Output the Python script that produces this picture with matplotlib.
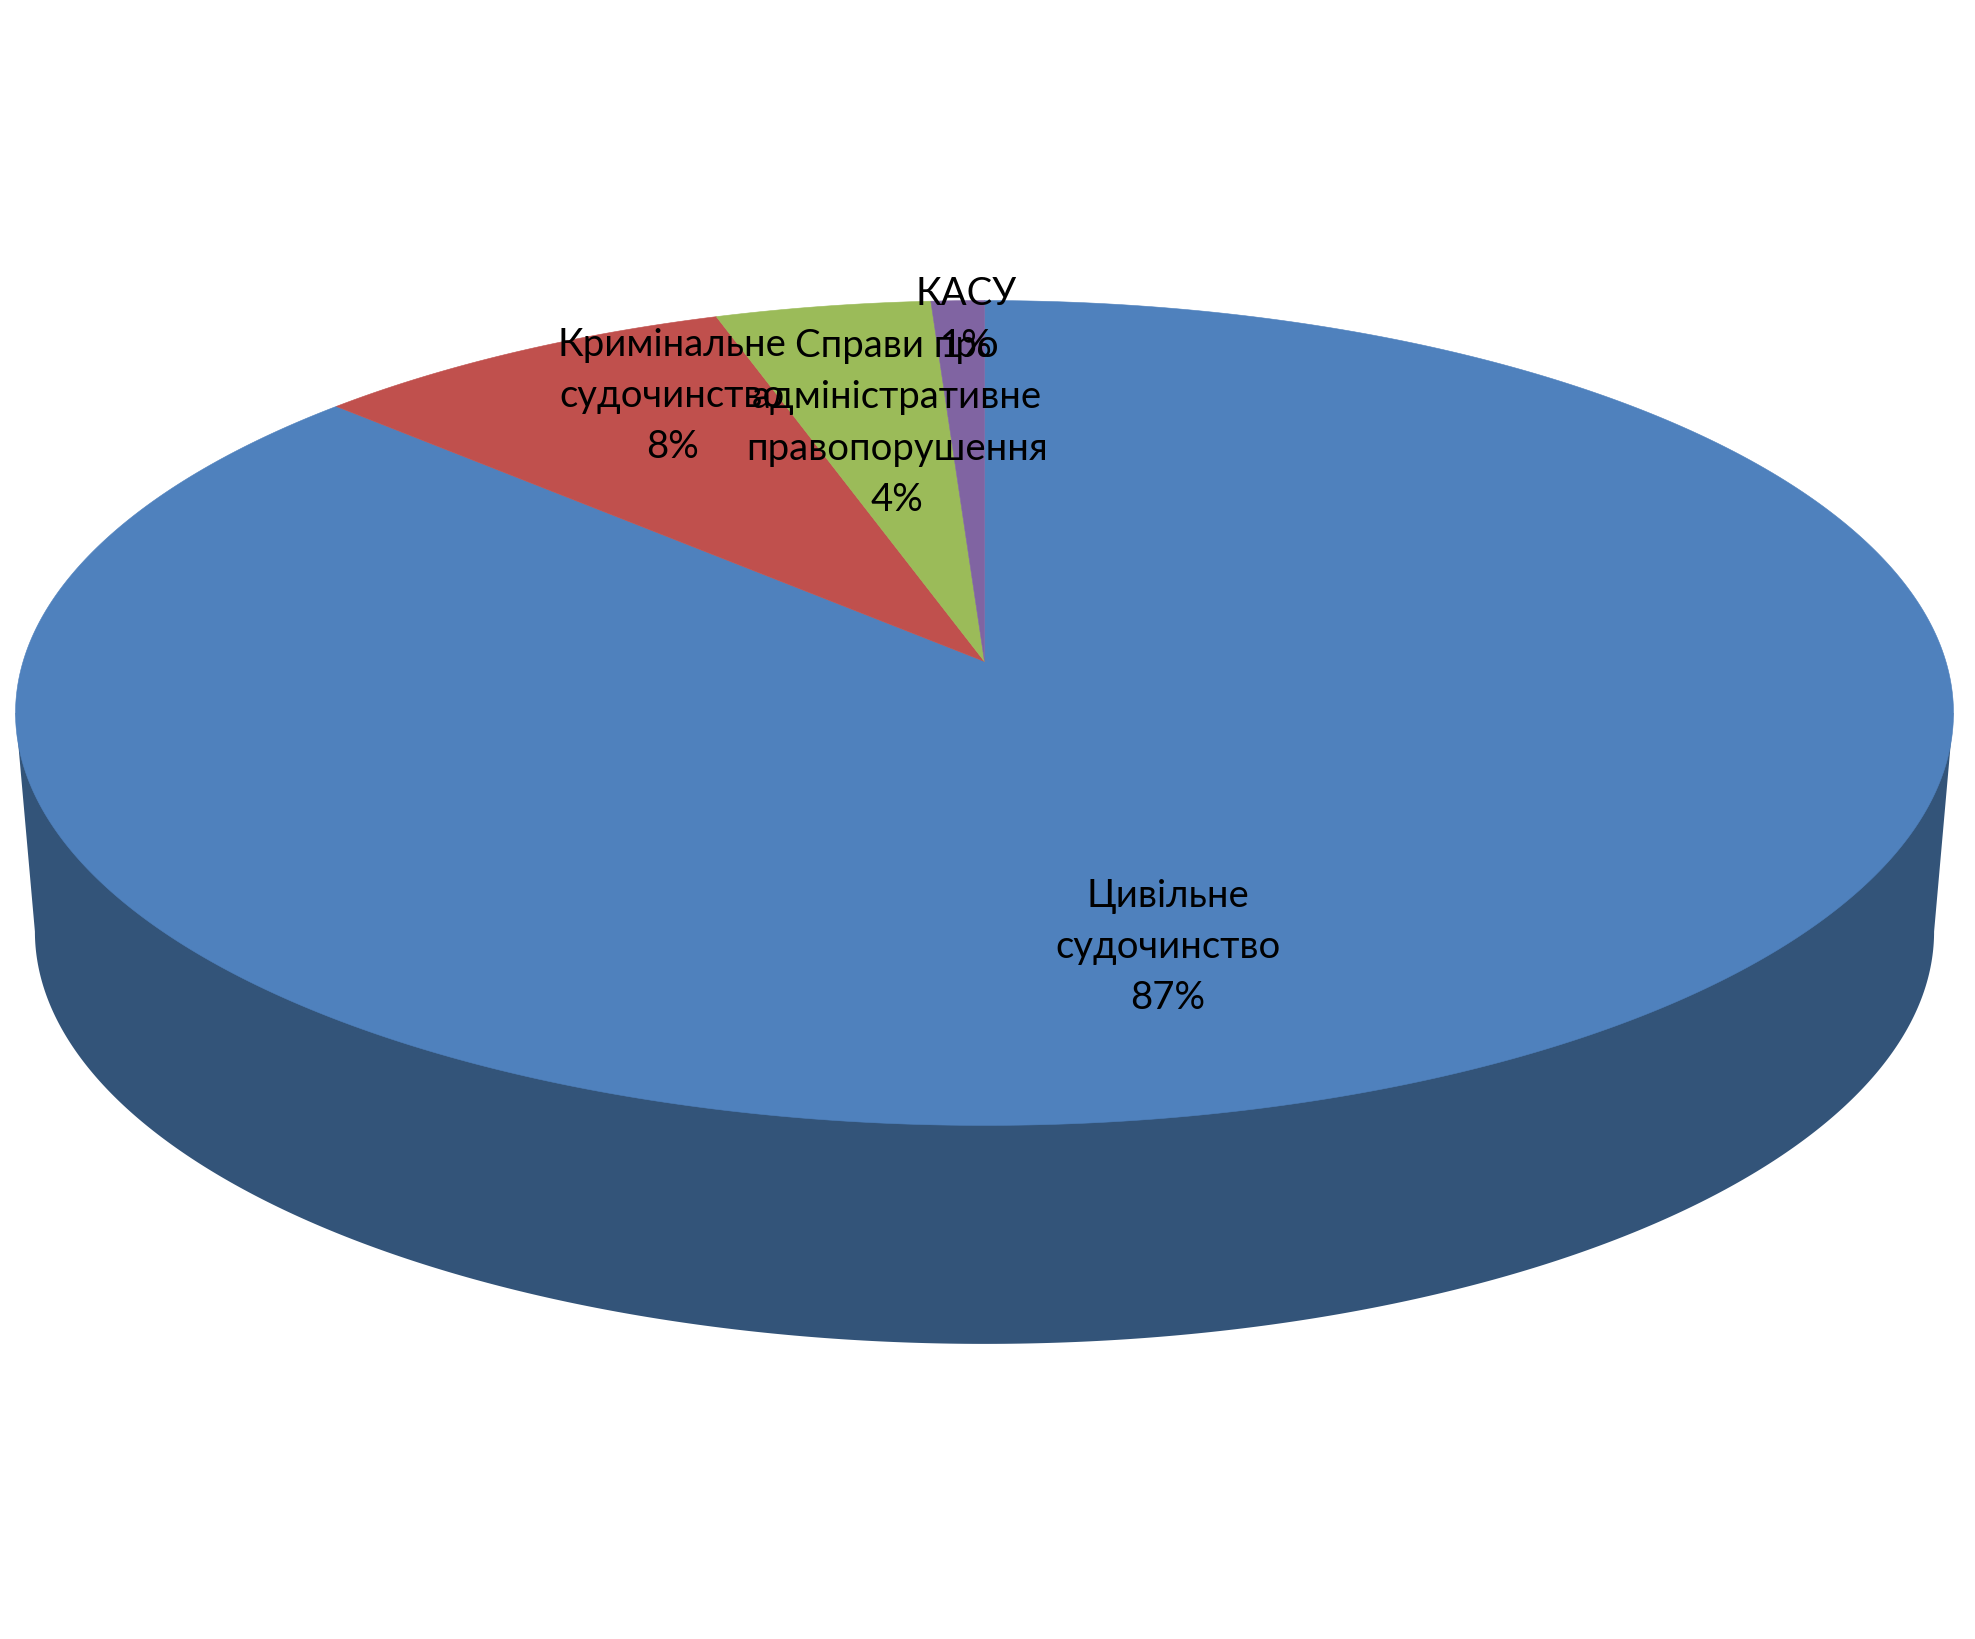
import numpy as np
import matplotlib
matplotlib.use("Agg")
import matplotlib.pyplot as plt

plt.rcParams['font.family'] = ['Lato', 'Open Sans', 'DejaVu Sans']

categories = ["Цивільне\nсудочинство", "Кримінальне\nсудочинство",
              "Справи про\nадміністративне\nправопорушення", "КАСУ"]
values = [86.94, 8.01, 4.05, 1.0]
colors = ["#4F81BD", "#C0504D", "#9BBB59", "#8064A2"]
side_color = "#335479"

# perspective layout of the pie disc (pixels of the figure)
APEX = (984.5, 662.5)
A, B, K = 961.4, 406.0, 0.1248
RIM_DROP, RIM_XS = 218.5, 0.98
label_pos = [(1168, 947), (672, 396), (897, 423), (966, 320)]


def project(theta, r=1.0, drop=0.0, xs=1.0):
    """theta clockwise from 12 o'clock on the unit disc, to screen pixels."""
    u, v = r * np.sin(theta), r * np.cos(theta)
    w = 1 + K * v
    return APEX[0] + xs * A * u / w, APEX[1] + drop - B * v / w


fig = plt.figure(figsize=(19.75, 16.4), dpi=100)
ax = fig.add_axes([0, 0, 1, 1])
ax.set_xlim(0, 1975)
ax.set_ylim(1640, 0)
ax.axis("off")

# side wall
t_ext = np.arccos(-K)                       # angle of the widest point of the rim
tt = np.linspace(t_ext, 2 * np.pi - t_ext, 400)
xb, yb = project(tt, drop=RIM_DROP, xs=RIM_XS)
xt0, yt0 = project(np.array([t_ext]))
xt1, yt1 = project(np.array([2 * np.pi - t_ext]))
ax.fill(np.r_[xt0, xb, xt1], np.r_[yt0, yb, yt1], color=side_color, lw=0, zorder=1)

# top face wedges
edges = np.r_[0, np.cumsum(values)] / np.sum(values) * 2 * np.pi
for i, c in enumerate(colors):
    t = np.linspace(edges[i], edges[i + 1], max(8, int(800 * values[i] / 100)))
    x, y = project(t)
    ax.fill(np.r_[APEX[0], x], np.r_[APEX[1], y], color=c, lw=0.4, ec=c, zorder=2)

# labels
for name, val, (lx, ly) in zip(categories, values, label_pos):
    ax.text(lx, ly, f"{name}\n{val:.0f}%", ha="center", va="center",
            multialignment="center", fontsize=27.5, color="black",
            linespacing=1.52, zorder=3)

fig.savefig("out.png", dpi=100, facecolor="white")
